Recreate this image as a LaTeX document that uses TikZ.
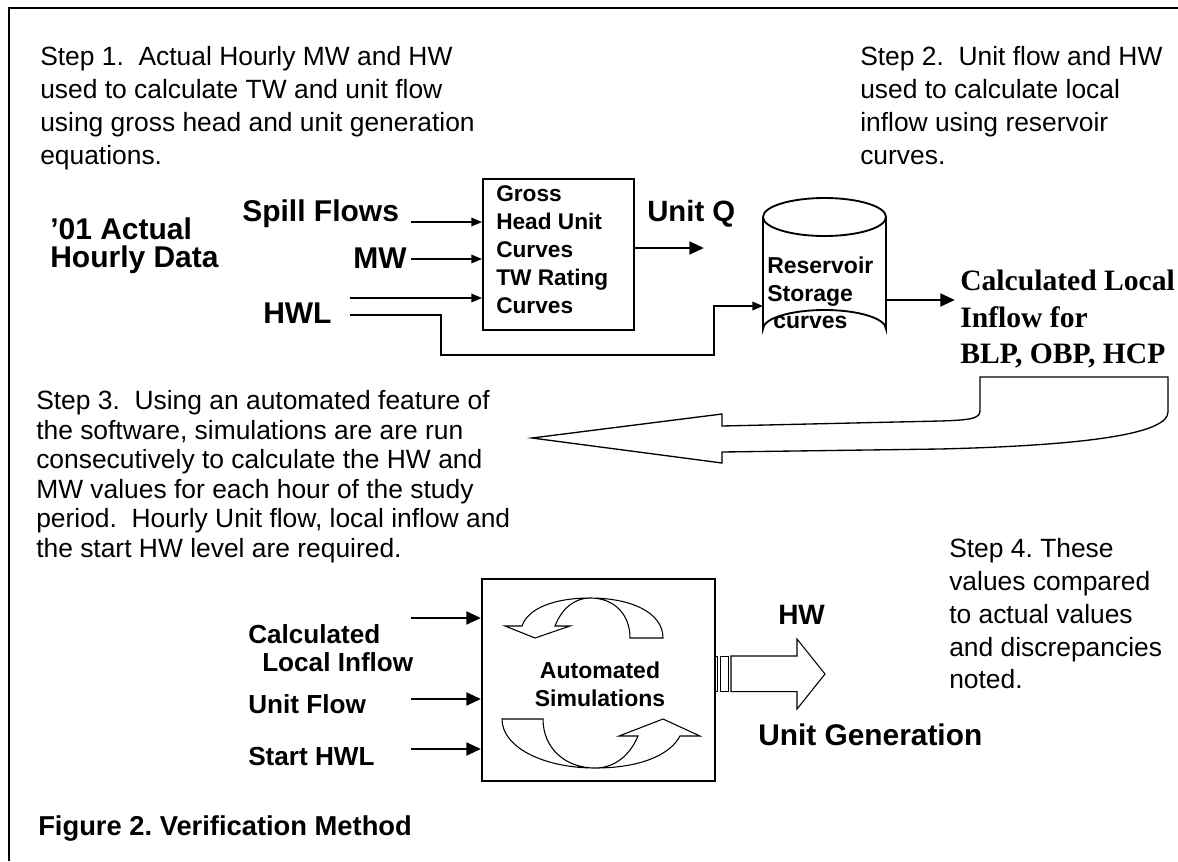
\documentclass[tikz,border=0pt]{standalone}
\usepackage{fontspec}
\setmainfont{Liberation Sans}
\newfontfamily\timesfont{Liberation Serif}
\usetikzlibrary{arrows.meta,shapes.geometric}
\frenchspacing
\begin{document}
\begin{tikzpicture}[x=0.75pt,y=-0.75pt, line join=miter,
  body/.style={anchor=base west, inner sep=0, font=\fontsize{19.8}{24}\selectfont},
  big/.style={anchor=base west, inner sep=0, font=\bfseries\fontsize{22.5}{24}\selectfont},
  mid/.style={anchor=base west, inner sep=0, font=\bfseries\fontsize{19.6}{24}\selectfont},
  small/.style={anchor=base west, inner sep=0, font=\bfseries\fontsize{17}{20}\selectfont},
  serifbig/.style={anchor=base west, inner sep=0, font=\timesfont\bfseries\fontsize{22.2}{24}\selectfont},
  tinarrow/.style={line width=1pt, -{Triangle[length=8pt,width=6.5pt]}},
  fatarrow/.style={line width=2.2pt, -{Triangle[length=11pt,width=9.5pt]}},
  boxnode/.style={draw, line width=1.4pt, anchor=north west, inner sep=0},
]
\useasboundingbox (0,0) rectangle (1178,861);
\draw[line width=1.5pt] (9,861) -- (9,8) -- (1178,8);

% Step 1
\node[body] (s1a) at (40,65) {Step 1.\ \ Actual Hourly MW and HW};
\node[body] (s1b) at (40,98) {used to calculate TW and unit flow};
\node[body] (s1c) at (40,131) {using gross head and unit generation};
\node[body] (s1d) at (40,164) {equations.};
% Step 2
\node[body] (s2a) at (860,65) {Step 2.\ \ Unit flow and HW};
\node[body] (s2b) at (860,98) {used to calculate local};
\node[body] (s2c) at (860,131) {inflow using reservoir};
\node[body] (s2d) at (860,164) {curves.};

% Left data label
\node[big] (d1) at (50,239) {'01 Actual};
\node[big] (d2) at (50,267) {Hourly Data};

% inputs
\node[big] (spill) at (242,221) {Spill Flows};
\node[big] (mw) at (353,268) {MW};
\node[big] (hwl) at (263,323) {HWL};

% gross box
\node[boxnode, minimum width=113.25pt, minimum height=113.25pt] (gross) at (482,178) {};
\node[small] (g1) at (496,201) {Gross};
\node[small] (g2) at (496,229) {Head Unit};
\node[small] (g3) at (496,257) {Curves};
\node[small] (g4) at (496,285) {TW Rating};
\node[small] (g5) at (496,313) {Curves};

\coordinate (spillS) at (411,222);
\coordinate (mwS) at (411,259);
\coordinate (hwlS) at (350,298);
\coordinate (hwlT) at (350,315);
\draw[tinarrow] (spillS) -- (spillS -| gross.west);
\draw[tinarrow] (mwS) -- (mwS -| gross.west);
\draw[tinarrow] (hwlS) -- (hwlS -| gross.west);

% Unit Q
\node[big, font=\bfseries\fontsize{22}{24}\selectfont] (uq) at (647,221) {Unit Q};
\coordinate (uqE) at (704,248);
\draw[fatarrow] (uqE -| gross.east) -- (uqE);

% cylinder
\draw[line width=1.4pt, fill=white] (763,217) -- (763,329) arc[start angle=180, end angle=360, x radius=61.5, y radius=19] -- (886,217);
\node[draw, line width=1.4pt, ellipse, minimum width=92.25pt, minimum height=28.5pt, inner sep=0] (cyl) at (824.5,217) {};
\coordinate (cylW) at (763,306);
\coordinate (cylE) at (886,300);
\node[small, font=\bfseries\fontsize{17.25}{20}\selectfont] (r1) at (767,273) {Reservoir};
\node[small, font=\bfseries\fontsize{17.25}{20}\selectfont] (r2) at (767,301) {Storage};
\node[small, font=\bfseries\fontsize{17.25}{20}\selectfont] (r3) at (773,328) {curves};
\draw[tinarrow] (hwlT) -- (441,315) -- (441,355) -- (714,355) -- (714,306) -- (cylW);

\coordinate (calcW) at (955,300);
\draw[fatarrow] (cylE) -- (calcW);
\node[serifbig] (c1) at (960,290) {Calculated Local};
\node[serifbig] (c2) at (960,327) {Inflow for};
\node[serifbig] (c3) at (960,363) {BLP, OBP, HCP};

% big curved arrow
\draw[line width=1pt, fill=white] (980,377) -- (1168,377) -- (1168,412)
  .. controls (1168,432) and (1100,445) .. (940,449) -- (722,452) -- (722,463) -- (532,438)
  -- (722,414) -- (722,426) -- (940,421) .. controls (974,420) and (980,418) .. (980,410) -- cycle;

% Step 3
\node[body] (s3a) at (36,409) {Step 3.\ \ Using an automated feature of};
\node[body] (s3b) at (36,439) {the software, simulations are are run};
\node[body] (s3c) at (36,468) {consecutively to calculate the HW and};
\node[body] (s3d) at (36,498) {MW values for each hour of the study};
\node[body] (s3e) at (36,527) {period.\ \ Hourly Unit flow, local inflow and};
\node[body] (s3f) at (36,557) {the start HW level are required.};

% Step 4
\node[body] (s4a) at (949,557) {Step 4. These};
\node[body] (s4b) at (949,590) {values compared};
\node[body] (s4c) at (949,623) {to actual values};
\node[body] (s4d) at (949,656) {and discrepancies};
\node[body] (s4e) at (949,688) {noted.};

% automated box
\node[boxnode, minimum width=174.75pt, minimum height=151.5pt] (auto) at (481,578) {};
\node[small, font=\bfseries\fontsize{17.25}{20}\selectfont, anchor=base] (a1) at (600,678) {Automated};
\node[small, font=\bfseries\fontsize{17.25}{20}\selectfont, anchor=base] (a2) at (600,706) {Simulations};

% circular arrows
\draw[line width=0.8pt, fill=white] (663,638) .. controls (663,612) and (630,598) .. (590,598)
  .. controls (555,598) and (528,608) .. (522,626) -- (505,626) -- (535,638) -- (570,626) -- (555,626)
  .. controls (562,608) and (575,598) .. (590,598) .. controls (615,598) and (630,615) .. (630,638) -- cycle;
\draw[line width=0.8pt, fill=white] (502,719) .. controls (502,748) and (545,768) .. (595,768)
  .. controls (640,768) and (670,755) .. (680,736) -- (700,736) -- (663,719) -- (619,736) -- (638,736)
  .. controls (630,755) and (615,768) .. (595,768) .. controls (565,768) and (543,748) .. (543,719) -- cycle;

% inputs bottom
\node[mid] (l1) at (248,643) {Calculated};
\node[mid] (l2) at (262,671) {Local Inflow};
\node[mid] (l3) at (248,713) {Unit Flow};
\node[mid] (l4) at (248,765) {Start HWL};
\coordinate (in1) at (411,618);
\coordinate (in2) at (411,699);
\coordinate (in3) at (411,749);
\draw[fatarrow] (in1) -- (in1 -| auto.west);
\draw[fatarrow] (in2) -- (in2 -| auto.west);
\draw[fatarrow] (in3) -- (in3 -| auto.west);

% striped output arrow
\draw[line width=0.6pt] (714.3,656) rectangle (717.3,691.7);
\draw[line width=0.6pt] (720.7,656) rectangle (728.3,691.7);
\draw[line width=0.8pt, fill=white] (731,656) -- (797,656) -- (797,639) -- (825,674) -- (797,709) -- (797,691.7) -- (731,691.7) -- cycle;
\node[big, font=\bfseries\fontsize{21}{24}\selectfont] (hw) at (778,624) {HW};
\node[big, font=\bfseries\fontsize{22.4}{24}\selectfont] (ug) at (758,745) {Unit Generation};

% caption
\node[big, font=\bfseries\fontsize{20.5}{24}\selectfont] (fig) at (38,835) {Figure 2. Verification Method};
\end{tikzpicture}
\end{document}
